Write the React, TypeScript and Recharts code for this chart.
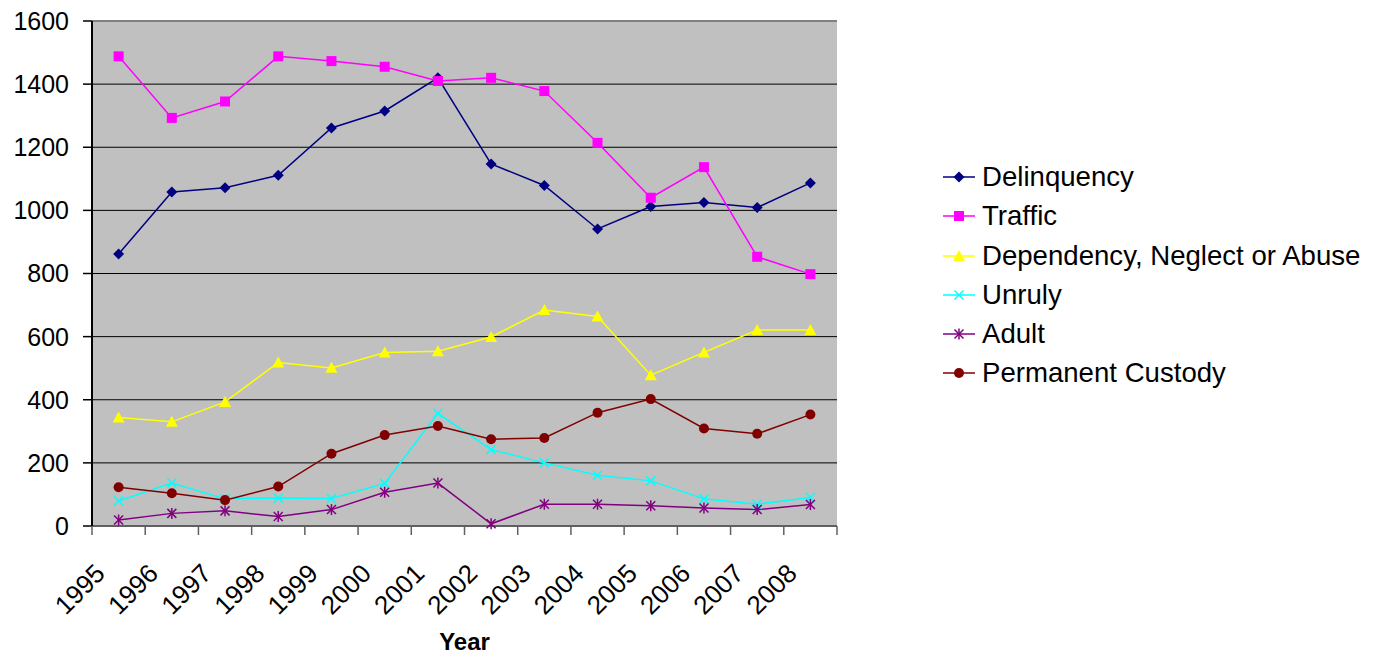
import React from 'react';
import {
  LineChart,
  Line,
  XAxis,
  YAxis,
  CartesianGrid,
  ReferenceLine,
  Label
} from 'recharts';

const years = ['1995', '1996', '1997', '1998', '1999', '2000', '2001', '2002', '2003', '2004', '2005', '2006', '2007', '2008'];
const delinquency = [862, 1058, 1072, 1111, 1261, 1315, 1420, 1147, 1079, 941, 1012, 1025, 1009, 1087];
const traffic = [1488, 1293, 1345, 1488, 1473, 1455, 1410, 1420, 1378, 1214, 1040, 1137, 853, 798];
const dependency = [344, 330, 393, 518, 501, 550, 554, 599, 684, 664, 478, 550, 621, 621];
const unruly = [79, 136, 86, 89, 87, 135, 357, 242, 200, 161, 143, 86, 69, 90];
const adult = [19, 40, 48, 30, 52, 107, 136, 7, 69, 69, 64, 57, 52, 68];
const permanentCustody = [123, 104, 82, 125, 229, 288, 317, 275, 279, 359, 402, 309, 292, 353];
const yTicks = [0, 200, 400, 600, 800, 1000, 1200, 1400, 1600];

type MarkerKind = 'diamond' | 'square' | 'triangle' | 'cross' | 'star' | 'circle';

const series: { key: string; name: string; color: string; marker: MarkerKind }[] = [
  { key: 'delinquency', name: 'Delinquency', color: '#000080', marker: 'diamond' },
  { key: 'traffic', name: 'Traffic', color: '#FF00FF', marker: 'square' },
  { key: 'dependency', name: 'Dependency, Neglect or Abuse', color: '#FFFF00', marker: 'triangle' },
  { key: 'unruly', name: 'Unruly', color: '#00FFFF', marker: 'cross' },
  { key: 'adult', name: 'Adult', color: '#800080', marker: 'star' },
  { key: 'permanentCustody', name: 'Permanent Custody', color: '#800000', marker: 'circle' }
];

const data = years.map((year, i) => ({
  year,
  delinquency: delinquency[i],
  traffic: traffic[i],
  dependency: dependency[i],
  unruly: unruly[i],
  adult: adult[i],
  permanentCustody: permanentCustody[i]
}));

const FONT = '"Liberation Sans", Arial, sans-serif';
const WIDTH = 1382;
const HEIGHT = 656;
const MARGIN = { top: 21, right: 545, bottom: 0, left: 0 };
const Y_AXIS_W = 92;
const PLOT_W = WIDTH - MARGIN.left - MARGIN.right - Y_AXIS_W;
const BAND = PLOT_W / years.length;

function Marker({ kind, cx, cy, color }: { kind: MarkerKind; cx: number; cy: number; color: string }) {
  switch (kind) {
    case 'diamond':
      return <polygon points={`${cx},${cy - 5.5} ${cx + 5.5},${cy} ${cx},${cy + 5.5} ${cx - 5.5},${cy}`} fill={color} />;
    case 'square':
      return <rect x={cx - 5} y={cy - 5} width={10} height={10} fill={color} />;
    case 'triangle':
      return <polygon points={`${cx},${cy - 6} ${cx + 6},${cy + 5} ${cx - 6},${cy + 5}`} fill={color} />;
    case 'cross':
      return (
        <g stroke={color} strokeWidth={1.5}>
          <line x1={cx - 4.5} y1={cy - 4.5} x2={cx + 4.5} y2={cy + 4.5} />
          <line x1={cx - 4.5} y1={cy + 4.5} x2={cx + 4.5} y2={cy - 4.5} />
        </g>
      );
    case 'star':
      return (
        <g stroke={color} strokeWidth={1.5}>
          <line x1={cx - 4.5} y1={cy - 4.5} x2={cx + 4.5} y2={cy + 4.5} />
          <line x1={cx - 4.5} y1={cy + 4.5} x2={cx + 4.5} y2={cy - 4.5} />
          <line x1={cx} y1={cy - 5.5} x2={cx} y2={cy + 5.5} />
        </g>
      );
    default:
      return <circle cx={cx} cy={cy} r={5} fill={color} />;
  }
}

// year labels sit at the band centre, tick marks on the band edges
function YearTick(props: any) {
  const { x, y, payload, index } = props;
  const tx = x - 12;
  const ty = y + 49;
  const left = x - BAND / 2;
  return (
    <g>
      <line x1={left} y1={y} x2={left} y2={y + 9} stroke="#606060" strokeWidth={1.5} />
      {index === years.length - 1 && (
        <line x1={x + BAND / 2} y1={y} x2={x + BAND / 2} y2={y + 9} stroke="#606060" strokeWidth={1.5} />
      )}
      <text
        x={tx}
        y={ty}
        transform={`rotate(-45 ${tx} ${ty})`}
        textAnchor="end"
        fontSize={26}
        fill="#000"
        fontFamily={FONT}
      >
        {payload.value}
      </text>
    </g>
  );
}

function ChartLegend() {
  return (
    <div style={{ position: 'absolute', left: 940, top: 157.7, fontFamily: FONT, fontSize: 27.6, color: '#000' }}>
      {series.map((s) => (
        <div key={s.key} style={{ height: 39.2, display: 'flex', alignItems: 'center' }}>
          <svg width={38} height={20} style={{ marginRight: 4 }}>
            <line x1={3} y1={10} x2={35} y2={10} stroke={s.color} strokeWidth={1.5} />
            <Marker kind={s.marker} cx={19} cy={10} color={s.color} />
          </svg>
          <span style={{ whiteSpace: 'nowrap' }}>{s.name}</span>
        </div>
      ))}
    </div>
  );
}

export default function App() {
  return (
    <div style={{ position: 'absolute', left: 0, top: 0, width: WIDTH, height: HEIGHT, background: '#fff' }}>
      <LineChart width={WIDTH} height={HEIGHT} data={data} margin={MARGIN} style={{ fontFamily: FONT }}>
        <CartesianGrid vertical={false} stroke="#000" strokeWidth={1} fill="#C0C0C0" fillOpacity={1} />
        <XAxis
          dataKey="year"
          scale="band"
          height={130}
          interval={0}
          tickLine={false}
          tickSize={0}
          tickMargin={0}
          axisLine={{ stroke: '#606060', strokeWidth: 2 }}
          tick={<YearTick />}
        >
          <Label
            value="Year"
            position="insideBottom"
            offset={6}
            style={{ fontSize: 24, fontWeight: 'bold', fill: '#000', fontFamily: FONT }}
          />
        </XAxis>
        <YAxis
          width={Y_AXIS_W}
          domain={[0, 1600]}
          ticks={yTicks}
          interval={0}
          tickSize={9}
          tickMargin={14}
          axisLine={{ stroke: '#000', strokeWidth: 2 }}
          tickLine={{ stroke: '#000', strokeWidth: 1.5 }}
          tick={{ fontSize: 25, fill: '#000', fontFamily: FONT }}
        />
        <YAxis
          yAxisId="frame"
          orientation="right"
          width={0}
          domain={[0, 1600]}
          tick={false}
          tickLine={false}
          axisLine={{ stroke: '#808080', strokeWidth: 2 }}
        />
        <ReferenceLine y={1600} stroke="#808080" strokeWidth={2} />
        {series.map((s) => (
          <Line
            key={s.key}
            type="linear"
            dataKey={s.key}
            name={s.name}
            stroke={s.color}
            strokeWidth={1.5}
            isAnimationActive={false}
            activeDot={false}
            dot={(p: any) => (
              <g key={`${s.key}-${p.index}`}>
                <Marker kind={s.marker} cx={p.cx} cy={p.cy} color={s.color} />
              </g>
            )}
          />
        ))}
      </LineChart>
      <ChartLegend />
    </div>
  );
}
